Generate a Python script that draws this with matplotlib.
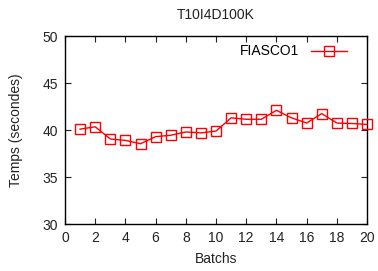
import matplotlib
matplotlib.use('Agg')
import matplotlib.pyplot as plt

# Data.
batches = list(range(1, 21))
fiasco1 = [40.1, 40.35, 39.05, 38.9, 38.55, 39.3, 39.45, 39.8, 39.7, 39.9,
           41.3, 41.15, 41.15, 42.1, 41.3, 40.75, 41.75, 40.75, 40.7, 40.6]
x_ticks = list(range(0, 21, 2))
y_ticks = [30, 35, 40, 45, 50]

plt.rcParams['font.family'] = ['Liberation Sans', 'DejaVu Sans']
plt.rcParams['font.size'] = 10

fig = plt.figure(figsize=(3.78, 2.71), dpi=100)
ax = fig.add_axes([0.172, 0.173, 0.799, 0.694])

ax.plot(batches, fiasco1, color='red', linewidth=1.0, marker='s',
        markersize=6.5, markerfacecolor='none', markeredgecolor='red',
        markeredgewidth=1.0, label='FIASCO1', clip_on=False, zorder=3)

ax.set_xlim(0, 20)
ax.set_ylim(30, 50)
ax.set_xticks(x_ticks)
ax.set_yticks(y_ticks)
ax.tick_params(direction='in', top=True, right=True, length=4, width=0.8,
               pad=5, labelsize=10, colors='#222222')
for spine in ax.spines.values():
    spine.set_linewidth(1.0)

ax.set_title('T10I4D100K', fontsize=10, pad=12, color='#222222')
ax.set_xlabel('Batchs', fontsize=10, labelpad=5, color='#222222')
ax.set_ylabel('Temps (secondes)', fontsize=10, labelpad=14, color='#222222')

ax.legend(loc='upper right', markerfirst=False, frameon=False,
          handlelength=2.6, borderaxespad=0.2, fontsize=10,
          bbox_to_anchor=(0.96, 1.0))

fig.savefig('out.png', dpi=100)
